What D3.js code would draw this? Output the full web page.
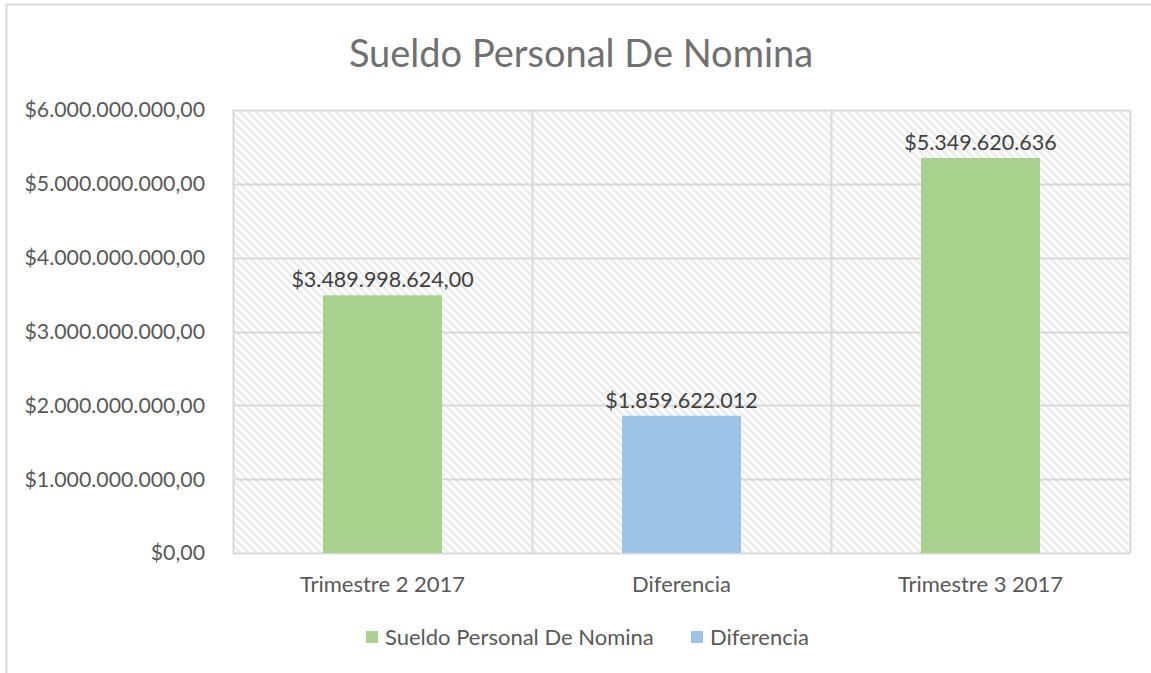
<!DOCTYPE html>
<html><head>
<meta charset="utf-8">
<title>Sueldo Personal De Nomina</title>
<script src="https://d3js.org/d3.v7.min.js"></script>
<style>
  body { margin: 0; background: #fff; }
  text { font-family: Lato, "Open Sans", sans-serif; fill: #595959; }
</style>
</head>
<body>
<div id="chart"></div>
<script>

// data
var categories = ["Trimestre 2 2017", "Diferencia", "Trimestre 3 2017"];
var values = [3489998624, 1859622012, 5349620636];
var series = ["Sueldo Personal De Nomina", "Diferencia", "Sueldo Personal De Nomina"];
var valueLabels = ["$3.489.998.624,00", "$1.859.622.012", "$5.349.620.636"];
var yTicks = [0, 1e9, 2e9, 3e9, 4e9, 5e9, 6e9];
var legendItems = ["Sueldo Personal De Nomina", "Diferencia"];

var colors = { "Sueldo Personal De Nomina": "#a9d18e", "Diferencia": "#9dc3e6" };

var W = 1151, H = 673;
var plot = { left: 233, right: 1130, top: 110, bottom: 553 };

var svg = d3.select("#chart").append("svg")
    .attr("width", W).attr("height", H);

// hatch fill for the plot area
var pat = svg.append("defs").append("pattern")
    .attr("id", "hatch")
    .attr("patternUnits", "userSpaceOnUse")
    .attr("width", 8).attr("height", 8);
pat.append("rect").attr("width", 8).attr("height", 8).attr("fill", "#fff");
pat.append("path")
    .attr("d", "M-2,-2 L10,10 M-2,6 L2,10 M6,-2 L10,2")
    .attr("stroke", "#ebebeb")
    .attr("stroke-width", 2.4);

// outer chart border
svg.append("rect")
    .attr("x", 6.5).attr("y", 4.5)
    .attr("width", 1170).attr("height", 700)
    .attr("fill", "none")
    .attr("stroke", "#d9d9d9")
    .attr("stroke-width", 2);

var x = d3.scaleBand()
    .domain(categories)
    .range([plot.left, plot.right])
    .paddingInner(0).paddingOuter(0);

var y = d3.scaleLinear()
    .domain([0, 6e9])
    .range([plot.bottom, plot.top]);

svg.append("rect")
    .attr("x", plot.left).attr("y", plot.top)
    .attr("width", plot.right - plot.left)
    .attr("height", plot.bottom - plot.top)
    .attr("fill", "url(#hatch)");

// gridlines
svg.append("g").selectAll("line").data(yTicks).enter().append("line")
    .attr("x1", plot.left).attr("x2", plot.right)
    .attr("y1", function(d) { return Math.round(y(d)) + 0.5; })
    .attr("y2", function(d) { return Math.round(y(d)) + 0.5; })
    .attr("stroke", "#d9d9d9").attr("stroke-width", 2);

var bounds = categories.map(function(c) { return x(c); }).concat([plot.right]);
svg.append("g").selectAll("line").data(bounds).enter().append("line")
    .attr("x1", function(d) { return Math.round(d) + 0.5; })
    .attr("x2", function(d) { return Math.round(d) + 0.5; })
    .attr("y1", plot.top).attr("y2", plot.bottom)
    .attr("stroke", "#d9d9d9").attr("stroke-width", 2);

// y axis labels
var fmt = function(d) {
  var s = d3.format(",")(d).replace(/,/g, ".");
  return "$" + s + ",00";
};
svg.append("g").selectAll("text").data(yTicks).enter().append("text")
    .attr("x", 205)
    .attr("y", function(d) { return y(d); })
    .attr("dy", "0.35em")
    .attr("text-anchor", "end")
    .style("font-size", "21.3px")
    .text(fmt);

// bars
var bw = 119;
svg.append("g").selectAll("rect").data(values).enter().append("rect")
    .attr("x", function(d, i) { return x(categories[i]) + x.bandwidth() / 2 - bw / 2; })
    .attr("y", function(d) { return y(d); })
    .attr("width", bw)
    .attr("height", function(d) { return y(0) - y(d); })
    .attr("fill", function(d, i) { return colors[series[i]]; });

// value labels
svg.append("g").selectAll("text").data(values).enter().append("text")
    .attr("x", function(d, i) { return x(categories[i]) + x.bandwidth() / 2; })
    .attr("y", function(d) { return y(d) - 8; })
    .attr("text-anchor", "middle")
    .style("font-size", "21.5px")
    .style("fill", "#404040")
    .text(function(d, i) { return valueLabels[i]; });

// category labels
svg.append("g").selectAll("text").data(categories).enter().append("text")
    .attr("x", function(d) { return x(d) + x.bandwidth() / 2; })
    .attr("y", 592)
    .attr("text-anchor", "middle")
    .style("font-size", "22px")
    .text(function(d) { return d; });

// title
svg.append("text")
    .attr("x", 581).attr("y", 67)
    .attr("text-anchor", "middle")
    .style("font-size", "38px")
    .style("fill", "#707070")
    .text("Sueldo Personal De Nomina");

// legend
var legX = [366, 691];
var leg = svg.append("g").selectAll("g").data(legendItems).enter().append("g")
    .attr("transform", function(d, i) { return "translate(" + legX[i] + ",631)"; });
leg.append("rect").attr("width", 12).attr("height", 12)
    .attr("fill", function(d) { return colors[d]; });
leg.append("text").attr("x", 19).attr("y", 6).attr("dy", "0.35em")
    .style("font-size", "22px")
    .text(function(d) { return d; });

</script>
</body></html>
